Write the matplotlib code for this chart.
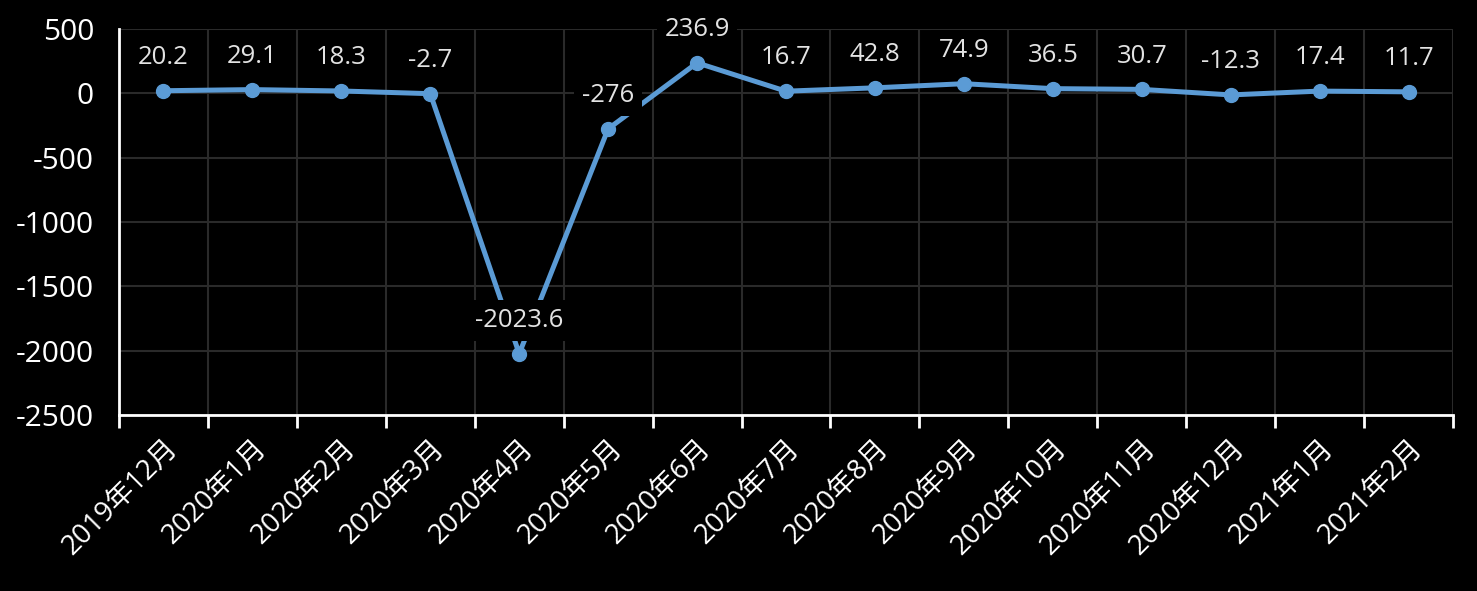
import matplotlib
matplotlib.use('Agg')
import matplotlib.pyplot as plt
import numpy as np

plt.rcParams['font.family'] = ['Open Sans', 'Noto Sans CJK SC', 'DejaVu Sans']

# data
months = ['2019年12月', '2020年1月', '2020年2月', '2020年3月', '2020年4月',
          '2020年5月', '2020年6月', '2020年7月', '2020年8月', '2020年9月',
          '2020年10月', '2020年11月', '2020年12月', '2021年1月', '2021年2月']
values = [20.2, 29.1, 18.3, -2.7, -2023.6, -276, 236.9, 16.7, 42.8, 74.9,
          36.5, 30.7, -12.3, 17.4, 11.7]
y_ticks = [500, 0, -500, -1000, -1500, -2000, -2500]

fig = plt.figure(figsize=(14.77, 5.91), dpi=100, facecolor='black')
ax = fig.add_axes([119 / 1477, 1 - 415 / 591, (1453 - 119) / 1477, (415 - 29) / 591])
ax.set_facecolor('black')

x = np.arange(len(months))
line_color = '#5B9BD5'
ax.plot(x, values, color=line_color, linewidth=3.6, marker='o', markersize=10,
        zorder=3)

# data labels with black boxes
for xi, v in zip(x, values):
    lbl = f'{v:g}'
    ax.annotate(lbl, (xi, v), xytext=(0, 24), textcoords='offset points',
                ha='center', va='center', fontsize=18.5, color='#E3E3E3',
                bbox=dict(boxstyle='square,pad=0.3', facecolor='black',
                          edgecolor='none'),
                zorder=4, annotation_clip=False)

ax.set_xlim(-0.5, len(months) - 0.5)
ax.set_ylim(-2500, 500)
ax.set_yticks(y_ticks)
ax.set_yticklabels([str(t) for t in y_ticks])

ax.set_xticks(x)
ax.set_xticklabels(months, rotation=45, ha='right', rotation_mode='anchor')
ax.set_xticks(np.arange(-0.5, len(months)), minor=True)

ax.tick_params(axis='x', which='major', length=0, pad=14, labelsize=20,
               labelcolor='white')
ax.tick_params(axis='x', which='minor', length=9, width=2, color='white',
               direction='out')
ax.tick_params(axis='y', length=0, pad=18, labelsize=21.5, labelcolor='white')

ax.grid(axis='x', which='minor', color='#2A2A2A', linewidth=1.5)
ax.grid(axis='y', which='major', color='#2A2A2A', linewidth=1.5)
ax.set_axisbelow(True)

for side in ['top', 'right']:
    ax.spines[side].set_visible(False)
for side in ['left', 'bottom']:
    ax.spines[side].set_color('white')
    ax.spines[side].set_linewidth(2)

fig.savefig('out.png', dpi=100, facecolor='black')
